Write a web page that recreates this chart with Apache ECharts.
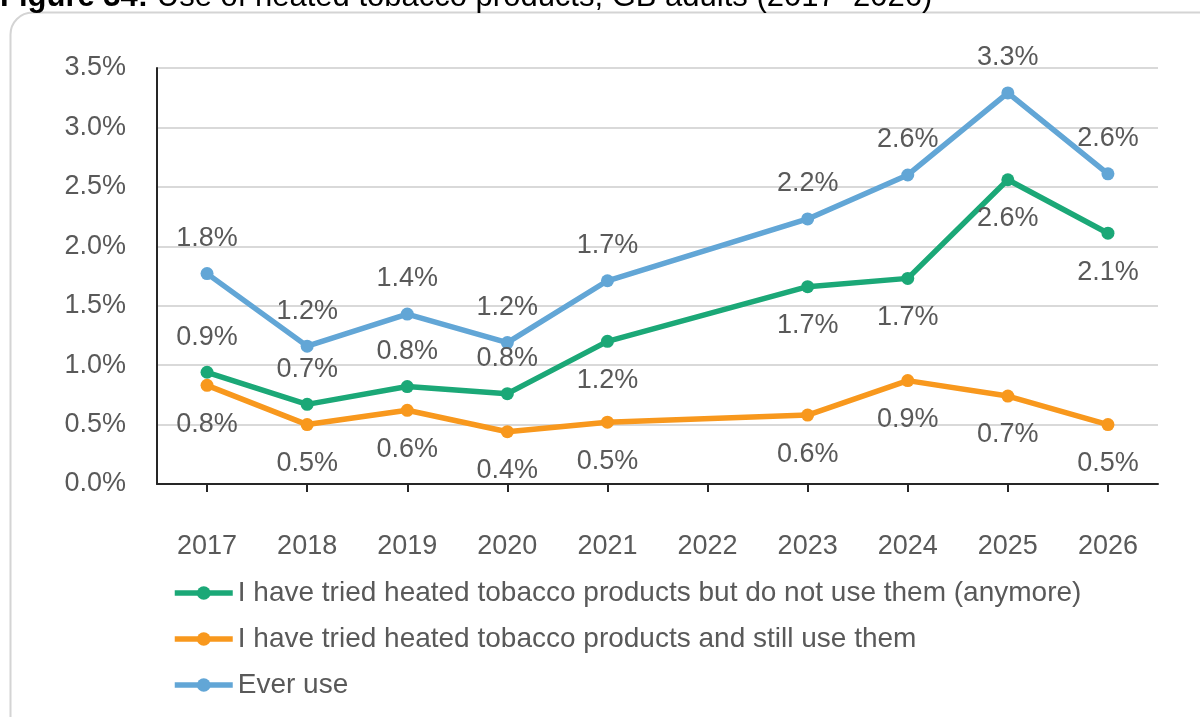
<!DOCTYPE html>
<html>
<head>
<meta charset="utf-8">
<script src="https://cdn.jsdelivr.net/npm/echarts@6/dist/echarts.min.js"></script>
<style>
html,body{margin:0;padding:0;background:#fff;}
#chart{width:1200px;height:717px;}
</style>
</head>
<body>
<div id="chart"></div>
<script>
const years = ['2017','2018','2019','2020','2021','2022','2023','2024','2025','2026'];
const yTicks = [0, 0.5, 1.0, 1.5, 2.0, 2.5, 3.0, 3.5];
const seriesNames = [
  'I have tried heated tobacco products but do not use them (anymore)',
  'I have tried heated tobacco products and still use them',
  'Ever use'
];
const triedNotUse = [0.94, 0.67, 0.82, 0.76, 1.20, null, 1.66, 1.73, 2.56, 2.11];
const stillUse    = [0.83, 0.50, 0.62, 0.44, 0.52, null, 0.58, 0.87, 0.74, 0.50];
const everUse     = [1.77, 1.16, 1.43, 1.19, 1.71, null, 2.23, 2.60, 3.29, 2.61];

const titleText = 'Use of heated tobacco products, GB adults (2017\u20132026)';

const FONT = '"Liberation Sans", Arial, sans-serif';
const TXT = '#595959';
const colors = ['#1ba877', '#f8981d', '#62a6d6'];

function labeled(data, posFn) {
  return data.map((v, i) => {
    if (v == null) return null;
    const pos = posFn(i);
    return { value: v, label: { position: pos, distance: pos === 'top' ? 15 : 19 } };
  });
}

const labelBase = {
  show: true,
  fontFamily: FONT,
  fontSize: 27,
  color: TXT,
  formatter: p => p.value.toFixed(1) + '%'
};

function lineSeries(name, data, color, posFn) {
  return {
    name: name,
    type: 'line',
    data: labeled(data, posFn),
    connectNulls: true,
    symbol: 'circle',
    symbolSize: 13,
    lineStyle: { width: 5.5, color: color },
    itemStyle: { color: color },
    label: labelBase,
    z: 3
  };
}

const chart = echarts.init(document.getElementById('chart'), null, { renderer: 'canvas' });
chart.setOption({
  animation: false,
  backgroundColor: '#fff',
  textStyle: { fontFamily: FONT },
  graphic: [
    {
      type: 'rect',
      shape: { x: 10.5, y: 12.5, width: 1220, height: 730, r: 22 },
      style: { fill: 'none', stroke: '#d4d4d4', lineWidth: 2 },
      z: -1
    },
    {
      type: 'text',
      left: 0,
      top: -18,
      style: {
        text: '{b|Figure 34:} ' + titleText,
        rich: { b: { fontWeight: 'bold', fontSize: 31, fontFamily: FONT, fill: '#000' } },
        fontSize: 31,
        fontFamily: FONT,
        fill: '#000'
      }
    }
  ],
  grid: { left: 157, right: 42, top: 68, bottom: 233, containLabel: false },
  xAxis: {
    type: 'category',
    data: years,
    boundaryGap: true,
    axisLine: { lineStyle: { color: '#262626', width: 2 } },
    axisTick: { show: true, alignWithLabel: true, length: 8, lineStyle: { color: '#262626', width: 2 } },
    axisLabel: { fontSize: 27, color: TXT, fontFamily: FONT, margin: 49 },
    splitLine: { show: false }
  },
  yAxis: {
    type: 'value',
    min: 0,
    max: 3.5,
    interval: 0.5,
    axisLine: { show: true, lineStyle: { color: '#262626', width: 2 } },
    axisTick: { show: false },
    axisLabel: {
      fontSize: 27, color: TXT, fontFamily: FONT, margin: 31,
      formatter: v => yTicks.includes(v) ? v.toFixed(1) + '%' : ''
    },
    splitLine: { lineStyle: { color: '#d9d9d9', width: 2 } }
  },
  legend: {
    orient: 'vertical',
    left: 172,
    top: 579,
    padding: 0,
    itemGap: 18,
    itemWidth: 58,
    itemHeight: 17,
    lineStyle: { width: 5.5 },
    textStyle: { fontSize: 28, color: TXT, fontFamily: FONT },
    data: seriesNames
  },
  series: [
    lineSeries(seriesNames[0], triedNotUse, colors[0], i => i < 4 ? 'top' : 'bottom'),
    lineSeries(seriesNames[1], stillUse, colors[1], i => 'bottom'),
    lineSeries(seriesNames[2], everUse, colors[2], i => 'top')
  ]
});
</script>
</body>
</html>
